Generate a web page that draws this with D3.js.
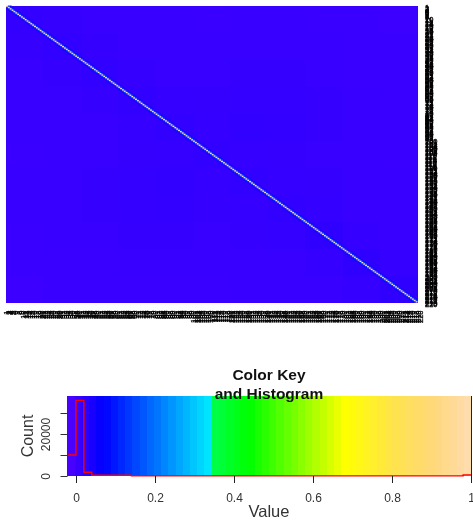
<!DOCTYPE html>
<html>
<head>
<meta charset="utf-8">
<script src="https://cdn.jsdelivr.net/npm/d3@7"></script>
<style>
  html, body { margin: 0; padding: 0; background: #fff; }
  svg { display: block; filter: blur(0.45px); }
  text { font-family: "Liberation Sans", Arial, sans-serif; }
</style>
</head>
<body>
<script>
// row and column labels, both run 1..220
const labels = d3.range(1, 221).map(String);

// matrix values read by eye, one value per block of 20 rows x 20 columns
const blockValues = [
  [0.012, 0.008, 0.007, 0.006, 0.006, 0.005, 0.006, 0.006, 0.005, 0.004, 0.003],
  [0.008, 0.013, 0.008, 0.007, 0.006, 0.006, 0.006, 0.007, 0.006, 0.005, 0.004],
  [0.007, 0.008, 0.013, 0.008, 0.007, 0.007, 0.008, 0.008, 0.007, 0.005, 0.005],
  [0.006, 0.007, 0.008, 0.014, 0.009, 0.008, 0.011, 0.011, 0.008, 0.006, 0.004],
  [0.006, 0.006, 0.007, 0.009, 0.014, 0.009, 0.013, 0.012, 0.008, 0.006, 0.005],
  [0.005, 0.006, 0.007, 0.008, 0.009, 0.014, 0.009, 0.008, 0.007, 0.006, 0.005],
  [0.006, 0.006, 0.008, 0.011, 0.013, 0.009, 0.014, 0.009, 0.008, 0.006, 0.006],
  [0.006, 0.007, 0.008, 0.011, 0.012, 0.008, 0.009, 0.014, 0.010, 0.007, 0.006],
  [0.005, 0.006, 0.007, 0.008, 0.008, 0.007, 0.008, 0.010, 0.015, 0.009, 0.007],
  [0.004, 0.005, 0.005, 0.006, 0.006, 0.006, 0.006, 0.007, 0.009, 0.015, 0.009],
  [0.003, 0.004, 0.005, 0.004, 0.005, 0.005, 0.006, 0.006, 0.007, 0.009, 0.015]
];
const blockSize = 20;

// values beside the diagonal, by distance from it
const haloValues = [0.14, 0.04];
const diagonalValue = 1;

// colour key stops
const keyStops = [-0.0215, 0.07, 0.335, 0.352, 0.44, 0.682, 0.8, 0.9, 1];
const keyColors = ["#5000ff", "#0000ff", "#00e6ff", "#00ff44", "#00ff00", "#ffff00", "#ffe44a", "#ffd878", "#ffdcb0"];
const keyBandCount = 56;

// histogram, one count per bin, bins start at these values
const histStarts = [-0.02, 0, 0.02, 0.04, 0.14, 0.98];
const histCounts = [10000, 36000, 1800, 350, 50, 500];
const histEnd = 1;

const xTicks = [0, 0.2, 0.4, 0.6, 0.8, 1];
const yTicks = [0, 10000, 20000, 30000];
const yLabels = ["0", "", "20000", ""];

const w = 473;
const h = 520;
const svg = d3.select("body").append("svg")
  .attr("width", w)
  .attr("height", h)
  .attr("viewBox", [0, 0, w, h]);

// heatmap
const heat = {left: 6, right: 417.5, top: 5.5, bottom: 302.5};
const xCell = d3.scaleBand().domain(labels).range([heat.left, heat.right]);
const yCell = d3.scaleBand().domain(labels).range([heat.top, heat.bottom]);

const colorScale = d3.scaleLinear().domain(keyStops).range(keyColors).clamp(true);

const heatG = svg.append("g");

const blocks = blockValues.flatMap((row, r) => row.map((v, c) => ({r, c, v})));
heatG.selectAll("rect.block")
  .data(blocks)
  .enter()
  .append("rect")
  .attr("class", "block")
  .attr("x", d => xCell(labels[d.c * blockSize]))
  .attr("y", d => yCell(labels[d.r * blockSize]))
  .attr("width", xCell.bandwidth() * blockSize)
  .attr("height", yCell.bandwidth() * blockSize)
  .attr("shape-rendering", "crispEdges")
  .attr("fill", d => colorScale(d.v));

const halo = [];
labels.forEach((l, i) => {
  haloValues.forEach((v, k) => {
    [-(k + 1), k + 1].forEach(off => {
      if (labels[i + off]) halo.push({row: l, col: labels[i + off], v});
    });
  });
});
heatG.selectAll("rect.halo")
  .data(halo)
  .enter()
  .append("rect")
  .attr("class", "halo")
  .attr("x", d => xCell(d.col))
  .attr("y", d => yCell(d.row))
  .attr("width", xCell.bandwidth())
  .attr("height", yCell.bandwidth())
  .attr("fill", d => colorScale(d.v));

heatG.selectAll("rect.diag")
  .data(labels)
  .enter()
  .append("rect")
  .attr("class", "diag")
  .attr("x", d => xCell(d))
  .attr("y", d => yCell(d))
  .attr("width", xCell.bandwidth())
  .attr("height", yCell.bandwidth())
  .attr("fill", colorScale(diagonalValue));

// row labels on the right, column labels underneath
// they sit a little wider than the cells, as in the picture
const rowLabelY = d3.scalePoint().domain(labels).range([7, 304.5]);
const colLabelX = d3.scalePoint().domain(labels).range([6, 420]);

svg.append("g").selectAll("text")
  .data(labels)
  .enter()
  .append("text")
  .attr("x", 425)
  .attr("y", d => rowLabelY(d))
  .attr("dy", "0.35em")
  .attr("font-size", 7.5)
  .attr("fill", "#000")
  .attr("stroke", "#000")
  .attr("stroke-width", 0.3)
  .text(d => d);

svg.append("g").selectAll("text")
  .data(labels)
  .enter()
  .append("text")
  .attr("transform", d => "translate(" + colLabelX(d) + ",310.5) rotate(-90)")
  .attr("dy", "0.35em")
  .attr("text-anchor", "end")
  .attr("font-size", 7.5)
  .attr("fill", "#000")
  .attr("stroke", "#000")
  .attr("stroke-width", 0.3)
  .text(d => d);

// colour key
const keyBox = {left: 67.5, right: 471, top: 396, bottom: 476};
const x = d3.scaleLinear().domain([0, 1]).range([76, 471]);
const y = d3.scaleLinear().domain([0, 10000]).range([476, 455]);

const keyBand = d3.scaleBand()
  .domain(d3.range(keyBandCount))
  .range([keyBox.left, keyBox.right]);
const bandValue = k => x.invert(keyBand(k) + keyBand.bandwidth() / 2);

const keyG = svg.append("g");
keyG.selectAll("rect")
  .data(keyBand.domain())
  .enter()
  .append("rect")
  .attr("x", d => keyBand(d))
  .attr("y", keyBox.top)
  .attr("width", keyBand.bandwidth())
  .attr("height", keyBox.bottom - keyBox.top)
  .attr("shape-rendering", "crispEdges")
  .attr("fill", d => colorScale(bandValue(d)));

// histogram as a red step line
const histPoints = [];
histStarts.forEach((s, i) => {
  const next = i + 1 < histStarts.length ? histStarts[i + 1] : histEnd;
  histPoints.push([s, histCounts[i]], [next, histCounts[i]]);
});
const histLine = d3.line()
  .x(d => Math.max(x(d[0]), keyBox.left))
  .y(d => y(d[1]));
svg.append("path")
  .attr("d", histLine(histPoints))
  .attr("fill", "none")
  .attr("stroke", "#ff0000")
  .attr("stroke-width", 1.4);

// axes
const xAxis = d3.axisBottom(x).tickValues(xTicks).tickSize(7).tickPadding(10)
  .tickFormat(d3.format("~g"));
const xAxisG = svg.append("g")
  .attr("transform", "translate(0,476)")
  .call(xAxis);
xAxisG.select(".domain").remove();
xAxisG.selectAll("text").attr("font-size", 12).attr("font-family", null).attr("fill", "#333");
xAxisG.selectAll("line").attr("stroke", "#222");

const yAxis = d3.axisLeft(y).tickValues(yTicks).tickSize(7).tickPadding(0)
  .tickFormat((d, i) => yLabels[i]);
const yAxisG = svg.append("g")
  .attr("transform", "translate(" + keyBox.left + ",0)")
  .call(yAxis);
yAxisG.select(".domain").remove();
yAxisG.selectAll("line").attr("stroke", "#333");
yAxisG.selectAll("text")
  .attr("font-size", 12)
  .attr("font-family", null)
  .attr("fill", "#333")
  .attr("text-anchor", "middle")
  .attr("dy", null)
  .attr("x", null)
  .attr("transform", "translate(-18,0) rotate(-90)");

svg.append("line")
  .attr("x1", keyBox.left).attr("x2", keyBox.left)
  .attr("y1", keyBox.top).attr("y2", keyBox.bottom)
  .attr("stroke", "#333").attr("stroke-width", 1);
svg.append("line")
  .attr("x1", keyBox.right + 0.5).attr("x2", keyBox.right + 0.5)
  .attr("y1", keyBox.top).attr("y2", keyBox.bottom)
  .attr("stroke", "#222").attr("stroke-width", 1);

// axis titles and key title
svg.append("text")
  .attr("x", 269).attr("y", 517)
  .attr("text-anchor", "middle").attr("font-size", 16.5).attr("fill", "#333")
  .text("Value");
svg.append("text")
  .attr("transform", "translate(33,436) rotate(-90)")
  .attr("text-anchor", "middle").attr("font-size", 16).attr("fill", "#333")
  .text("Count");
svg.append("text")
  .attr("x", 269).attr("y", 380)
  .attr("text-anchor", "middle").attr("font-size", 15.5).attr("font-weight", "bold").attr("fill", "#111")
  .text("Color Key");
svg.append("text")
  .attr("x", 269).attr("y", 399)
  .attr("text-anchor", "middle").attr("font-size", 15.5).attr("font-weight", "bold").attr("fill", "#111")
  .text("and Histogram");
</script>
</body>
</html>
